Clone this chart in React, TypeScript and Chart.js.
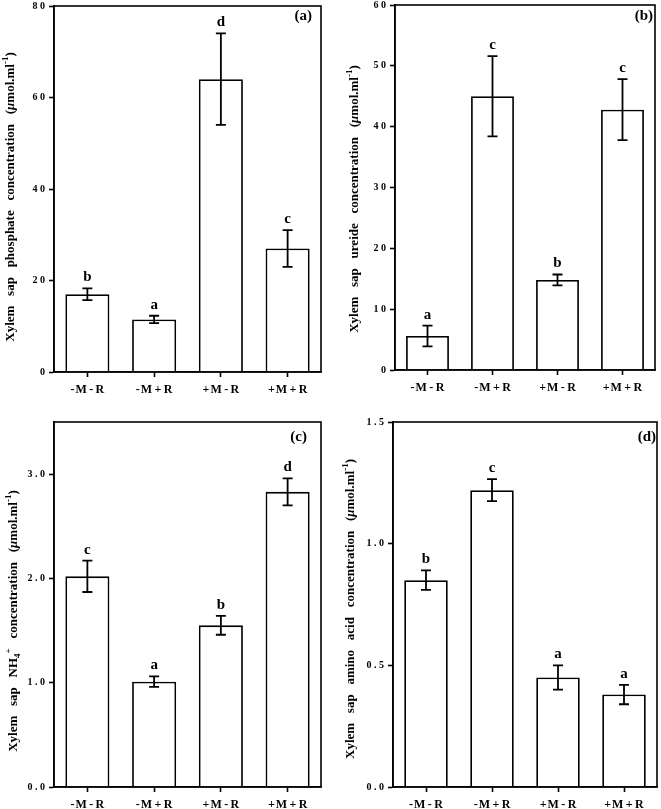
import React, { useEffect, useRef } from 'react';
import { Chart, registerables } from 'chart.js';
Chart.register(...registerables);

// ---------- data ----------
const categories = ['-\u200aM\u2009-\u2009R', '-\u200aM\u2009+\u2009R', '+\u200aM\u2009-\u2009R', '+\u200aM\u2009+\u2009R'];

const phosphateMeans = [17.0, 11.5, 64.0, 27.0];
const phosphateErrors = [1.3, 0.8, 10.0, 4.0];
const phosphateLetters = ['b', 'a', 'd', 'c'];
const phosphateTicks = [0, 20, 40, 60, 80];
const phosphateTickLabels = ['0', '2 0', '4 0', '6 0', '8 0'];

const ureideMeans = [5.6, 45.0, 14.8, 42.8];
const ureideErrors = [1.7, 6.6, 0.9, 5.0];
const ureideLetters = ['a', 'c', 'b', 'c'];
const ureideTicks = [0, 10, 20, 30, 40, 50, 60];
const ureideTickLabels = ['0', '1 0', '2 0', '3 0', '4 0', '5 0', '6 0'];

const ammoniumMeans = [2.02, 1.01, 1.55, 2.83];
const ammoniumErrors = [0.15, 0.05, 0.09, 0.13];
const ammoniumLetters = ['c', 'a', 'b', 'd'];
const ammoniumTicks = [0, 1, 2, 3];
const ammoniumTickLabels = ['0 . 0', '1 . 0', '2 . 0', '3 . 0'];

const aminoMeans = [0.85, 1.22, 0.45, 0.38];
const aminoErrors = [0.04, 0.045, 0.05, 0.04];
const aminoLetters = ['b', 'c', 'a', 'a'];
const aminoTicks = [0, 0.5, 1.0, 1.5];
const aminoTickLabels = ['0 . 0', '0 . 5', '1 . 0', '1 . 5'];

type Seg = { t: string; kind?: 'sub' | 'sup'; italic?: boolean };
const unitSegs: Seg[] = [
  { t: '(' },
  { t: 'μ', italic: true },
  { t: 'mol.ml' },
  { t: '-1', kind: 'sup' },
  { t: ')' },
];
const phosphateTitle: Seg[] = [{ t: 'Xylem   sap   phosphate   concentration   ' }, ...unitSegs];
const ureideTitle: Seg[] = [{ t: 'Xylem   sap   ureide   concentration   ' }, ...unitSegs];
const ammoniumTitle: Seg[] = [
  { t: 'Xylem   sap   NH' },
  { t: '4', kind: 'sub' },
  { t: '+', kind: 'sup' },
  { t: '   concentration   ' },
  ...unitSegs,
];
const aminoTitle: Seg[] = [{ t: 'Xylem   sap   amino   acid   concentration   ' }, ...unitSegs];

// ---------- layout / style ----------
const FONT = '"Liberation Serif", "Times New Roman", serif';

type PanelCfg = {
  x: number; y: number; w: number; h: number;
  yAxisW: number; padTop: number; padRight: number; xAxisH: number;
  means: number[]; errors: number[]; letters: string[];
  ticks: number[]; tickLabels: string[]; yMax: number;
  title: Seg[]; titleX: number; titleY: number;
  tag: string; tagInset: number; tagDy: number;
};

const panels: PanelCfg[] = [
  {
    x: 0, y: 0, w: 330, h: 400, yAxisW: 54, padTop: 6, padRight: 9, xAxisH: 28,
    means: phosphateMeans, errors: phosphateErrors, letters: phosphateLetters,
    ticks: phosphateTicks, tickLabels: phosphateTickLabels, yMax: 80,
    title: phosphateTitle, titleX: 9, titleY: 197, tag: '(a)', tagInset: 9, tagDy: 14,
  },
  {
    x: 330, y: 0, w: 331, h: 400, yAxisW: 65, padTop: 5, padRight: 6, xAxisH: 30,
    means: ureideMeans, errors: ureideErrors, letters: ureideLetters,
    ticks: ureideTicks, tickLabels: ureideTickLabels, yMax: 60,
    title: ureideTitle, titleX: 23, titleY: 199, tag: '(b)', tagInset: 2, tagDy: 15,
  },
  {
    x: 0, y: 400, w: 330, h: 409, yAxisW: 54, padTop: 22, padRight: 9, xAxisH: 22,
    means: ammoniumMeans, errors: ammoniumErrors, letters: ammoniumLetters,
    ticks: ammoniumTicks, tickLabels: ammoniumTickLabels, yMax: 3.5,
    title: ammoniumTitle, titleX: 12, titleY: 221, tag: '(c)', tagInset: 14, tagDy: 19,
  },
  {
    x: 330, y: 400, w: 331, h: 409, yAxisW: 63, padTop: 22, padRight: 4, xAxisH: 22,
    means: aminoMeans, errors: aminoErrors, letters: aminoLetters,
    ticks: aminoTicks, tickLabels: aminoTickLabels, yMax: 1.5,
    title: aminoTitle, titleX: 19, titleY: 209, tag: '(d)', tagInset: 1, tagDy: 19,
  },
];

function drawRich(ctx: CanvasRenderingContext2D, segs: Seg[], cx: number, cy: number, size: number) {
  const fontFor = (s: Seg) =>
    `${s.italic ? 'italic ' : ''}bold ${s.kind ? Math.round(size * 0.7) : size}px ${FONT}`;
  const widths = segs.map((s) => {
    ctx.font = fontFor(s);
    return ctx.measureText(s.t).width;
  });
  const total = widths.reduce((a, b) => a + b, 0);
  ctx.save();
  ctx.translate(cx, cy);
  ctx.rotate(-Math.PI / 2);
  ctx.fillStyle = '#000';
  ctx.textAlign = 'left';
  ctx.textBaseline = 'alphabetic';
  let x = -total / 2;
  const base = size * 0.35;
  segs.forEach((s, i) => {
    ctx.font = fontFor(s);
    const dy = s.kind === 'sub' ? size * 0.28 : s.kind === 'sup' ? -size * 0.42 : 0;
    ctx.fillText(s.t, x, base + dy);
    x += widths[i];
  });
  ctx.restore();
}

function Panel({ cfg }: { cfg: PanelCfg }) {
  const ref = useRef<HTMLCanvasElement>(null);
  useEffect(() => {
    const overlay = {
      id: 'overlay',
      afterDatasetsDraw(chart: any) {
        const ctx: CanvasRenderingContext2D = chart.ctx;
        const xs = chart.scales.x;
        const ys = chart.scales.y;
        const area = chart.chartArea;
        ctx.save();
        // error bars
        ctx.strokeStyle = '#000';
        ctx.lineWidth = 1.8;
        cfg.means.forEach((m, i) => {
          const px = xs.getPixelForValue(i);
          const yt = ys.getPixelForValue(m + cfg.errors[i]);
          const yb = ys.getPixelForValue(m - cfg.errors[i]);
          ctx.beginPath();
          ctx.moveTo(px, yt);
          ctx.lineTo(px, yb);
          ctx.moveTo(px - 5, yt);
          ctx.lineTo(px + 5, yt);
          ctx.moveTo(px - 5, yb);
          ctx.lineTo(px + 5, yb);
          ctx.stroke();
          // letters
          ctx.fillStyle = '#000';
          ctx.font = `bold 15px ${FONT}`;
          ctx.textAlign = 'center';
          ctx.textBaseline = 'alphabetic';
          ctx.fillText(cfg.letters[i], px, yt - 7);
        });
        // frame
        ctx.lineWidth = 1.6;
        ctx.strokeRect(area.left, area.top, area.right - area.left, area.bottom - area.top);
        // panel tag
        ctx.font = `bold 15px ${FONT}`;
        ctx.textAlign = 'right';
        ctx.fillText(cfg.tag, area.right - cfg.tagInset, area.top + cfg.tagDy);
        // y title
        drawRich(ctx, cfg.title, cfg.titleX, cfg.titleY, 13);
        ctx.restore();
      },
    };

    const chart = new Chart(ref.current!, {
      type: 'bar',
      data: {
        labels: categories,
        datasets: [
          {
            data: cfg.means,
            backgroundColor: '#ffffff',
            borderColor: '#000000',
            borderWidth: 1.8,
            categoryPercentage: 1,
            barPercentage: 0.66,
          },
        ],
      },
      options: {
        responsive: false,
        animation: false,
        devicePixelRatio: 1,
        layout: { padding: { top: cfg.padTop, right: cfg.padRight, left: 0, bottom: 0 } },
        plugins: { legend: { display: false }, tooltip: { enabled: false } },
        scales: {
          x: {
            grid: {
              display: true,
              drawOnChartArea: false,
              drawTicks: true,
              tickLength: 5,
              tickWidth: 1.6,
              tickColor: '#000',
              offset: false,
            },
            border: { display: true, color: '#000', width: 1.6 },
            ticks: {
              color: '#000',
              font: { family: FONT, weight: 'bold', size: 12 },
              padding: 6,
              maxRotation: 0,
              autoSkip: false,
            },
            afterFit: (s: any) => {
              s.height = cfg.xAxisH;
              s.paddingLeft = 0;
              s.paddingRight = 0;
            },
          },
          y: {
            min: 0,
            max: cfg.yMax,
            afterBuildTicks: (s: any) => {
              s.ticks = cfg.ticks.map((v) => ({ value: v }));
            },
            grid: {
              display: true,
              drawOnChartArea: false,
              drawTicks: true,
              tickLength: 5,
              tickWidth: 1.6,
              tickColor: '#000',
            },
            border: { display: true, color: '#000', width: 1.6 },
            ticks: {
              color: '#000',
              font: { family: FONT, weight: 'bold', size: 10 },
              padding: 4,
              callback: (v: any) => {
                const idx = cfg.ticks.findIndex((t) => Math.abs(t - Number(v)) < 1e-9);
                return idx >= 0 ? cfg.tickLabels[idx] : '';
              },
            },
            afterFit: (s: any) => {
              s.width = cfg.yAxisW;
              s.paddingTop = 0;
              s.paddingBottom = 0;
            },
          },
        },
      },
      plugins: [overlay],
    } as any);
    return () => chart.destroy();
  }, [cfg]);
  return (
    <canvas
      ref={ref}
      width={cfg.w}
      height={cfg.h}
      style={{ position: 'absolute', left: cfg.x, top: cfg.y, width: cfg.w, height: cfg.h }}
    />
  );
}

export default function App() {
  return (
    <div style={{ position: 'absolute', left: 0, top: 0, width: 661, height: 809, background: '#fff' }}>
      {panels.map((p, i) => (
        <Panel key={i} cfg={p} />
      ))}
    </div>
  );
}
